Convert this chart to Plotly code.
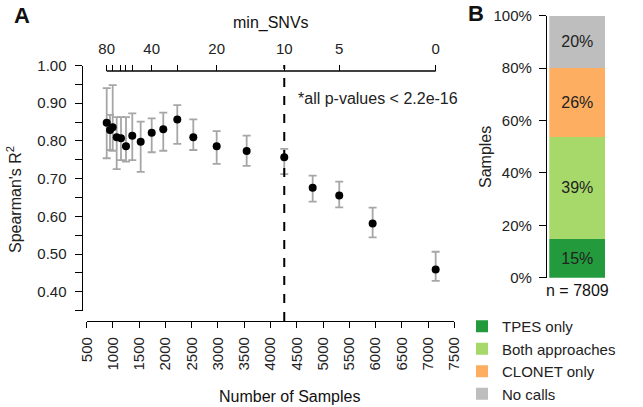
import plotly.graph_objects as go

# ---------------- data ----------------
n_samples = [881, 944, 995, 1071, 1153, 1248, 1368, 1528, 1738, 1958, 2225, 2530,
             2975, 3546, 4262, 4803, 5309, 5945, 7145]
spearman_r2 = [0.848, 0.829, 0.836, 0.810, 0.807, 0.786, 0.814, 0.798, 0.822, 0.831,
               0.857, 0.810, 0.786, 0.773, 0.757, 0.676, 0.655, 0.581, 0.459]
ci_upper = [0.940, 0.869, 0.948, 0.863, 0.863, 0.863, 0.873, 0.851, 0.860, 0.875,
            0.895, 0.857, 0.826, 0.814, 0.779, 0.708, 0.692, 0.623, 0.506]
ci_lower = [0.754, 0.776, 0.774, 0.725, 0.749, 0.745, 0.749, 0.718, 0.770, 0.774,
            0.792, 0.776, 0.739, 0.734, 0.712, 0.639, 0.624, 0.544, 0.429]

# top axis (min_SNVs): labelled ticks and unlabelled ticks (indices into n_samples)
min_snv_label_index = [0, 8, 12, 14, 16, 18]
min_snv_labels = ["80", "40", "20", "10", "5", "0"]
min_snv_minor_index = [2, 4, 5, 6, 10]
cutoff_index = 14  # min_SNVs = 10

x_ticks = list(range(500, 7501, 500))

categories = ["TPES only", "Both approaches", "CLONET only", "No calls"]
shares = [15, 39, 26, 20]
colors = ["#239B3C", "#A6D96A", "#FDAE61", "#BEBEBE"]
n_total = 7809

# ---------------- layout helpers ----------------
W, H = 643, 407
def px(x):
    return x / W
def py(y):
    return 1 - y / H

FONT = "Liberation Sans, Arial, Helvetica, sans-serif"
TICK = 15
LBL = 16

fig = go.Figure()

err_up = [u - v for u, v in zip(ci_upper, spearman_r2)]
err_dn = [v - l for l, v in zip(ci_lower, spearman_r2)]

fig.add_trace(go.Scatter(
    x=n_samples, y=spearman_r2, mode="markers",
    marker=dict(color="black", size=8),
    error_y=dict(type="data", symmetric=False, array=err_up, arrayminus=err_dn,
                 color="#a6a6a6", thickness=1.8, width=4),
    showlegend=False, hoverinfo="skip", xaxis="x", yaxis="y"))

# invisible traces so the top axes are rendered
for xa in ("x2", "x4"):
    fig.add_trace(go.Scatter(
        x=n_samples, y=spearman_r2, mode="markers", marker=dict(opacity=0),
        showlegend=False, hoverinfo="skip", xaxis=xa, yaxis="y"))

for cat, val, col in zip(categories, shares, colors):
    fig.add_trace(go.Bar(
        x=[0], y=[val], name=cat, width=1,
        marker=dict(color=col, line=dict(width=0)),
        text=[f"{val}%"], textposition="inside", insidetextanchor="middle",
        textangle=0, constraintext="none",
        textfont=dict(size=16, color="#222222", family=FONT),
        xaxis="x3", yaxis="y3", hoverinfo="skip"))

axis_common = dict(showgrid=False, zeroline=False, showline=True, linecolor="black",
                   linewidth=1.3, ticks="outside", tickcolor="black", tickwidth=1.3,
                   automargin=False,
                   tickfont=dict(size=TICK, color="#222222", family=FONT))

top_common = dict(overlaying="x", side="top", anchor="free", position=py(71),
                  range=[500, 7500], showgrid=False, zeroline=False, showline=False,
                  ticks="outside", ticklen=6, tickwidth=1.3, tickcolor="black",
                  automargin=False, ticklabelstandoff=5,
                  tickfont=dict(size=TICK, color="#222222", family=FONT))

fig.update_layout(
    width=W, height=H, margin=dict(l=0, r=0, t=0, b=0, autoexpand=False),
    paper_bgcolor="white", plot_bgcolor="white",
    font=dict(family=FONT, color="#222222"),
    barmode="stack", bargap=0,
    xaxis=dict(domain=[px(86.7), px(454.3)], range=[500, 7500], anchor="free",
               position=py(321), tickvals=x_ticks, tickangle=-90, ticklen=6,
               ticklabelstandoff=3, **axis_common),
    yaxis=dict(domain=[py(310.6), py(65.5)], range=[0.3499, 1.0001], anchor="free",
               position=px(81.7), tick0=0, dtick=0.1, tickformat=".2f", ticklen=7,
               ticklabelstandoff=5,
               minor=dict(dtick=0.05, tick0=0, ticks="outside", ticklen=7,
                          tickcolor="black", tickwidth=1.3, showgrid=False),
               **axis_common),
    xaxis2=dict(tickvals=[n_samples[i] for i in min_snv_label_index],
                ticktext=min_snv_labels, **top_common),
    xaxis4=dict(tickvals=[n_samples[i] for i in min_snv_minor_index],
                showticklabels=False, **top_common),
    xaxis3=dict(domain=[px(549.3), px(605.7)], range=[-0.5, 0.5], visible=False,
                anchor="y3", automargin=False),
    yaxis3=dict(domain=[py(277.7), py(15.7)], range=[0, 100], anchor="free",
                position=px(546), tick0=0, dtick=20, ticksuffix="%", ticklen=7,
                ticklabelstandoff=4, **axis_common),
    legend=dict(x=px(462), y=py(310), xanchor="left", yanchor="top",
                traceorder="normal", font=dict(size=15, color="#222222", family=FONT),
                bgcolor="rgba(0,0,0,0)", tracegroupgap=0, itemwidth=30),
)

fig.add_shape(type="line", xref="x", yref="paper",
              x0=n_samples[cutoff_index], x1=n_samples[cutoff_index],
              y0=py(321), y1=py(65), line=dict(color="black", width=2, dash="dash"))
fig.add_shape(type="line", xref="x", yref="paper",
              x0=n_samples[0], x1=n_samples[-1], y0=py(71), y1=py(71),
              line=dict(color="black", width=1.3))

ann = [
    dict(text="<b>A</b>", x=px(22), y=py(16), size=22),
    dict(text="<b>B</b>", x=px(476), y=py(14), size=22),
    dict(text="min_SNVs", x=px(271), y=py(23), size=LBL),
    dict(text="Number of Samples", x=px(289), y=py(396), size=LBL),
    dict(text="n = " + str(n_total), x=px(577), y=py(290), size=LBL),
]
for a in ann:
    fig.add_annotation(text=a["text"], x=a["x"], y=a["y"], xref="paper", yref="paper",
                       showarrow=False, xanchor="center", yanchor="middle",
                       font=dict(size=a["size"], color="#111111", family=FONT))
fig.add_annotation(text="*all p-values < 2.2e-16", x=px(296), y=py(98), xref="paper",
                   yref="paper", showarrow=False, xanchor="left", yanchor="middle",
                   font=dict(size=LBL, color="#222222", family=FONT))
fig.add_annotation(text="Spearman's R<sup>2</sup>", x=px(14), y=py(200), xref="paper",
                   yref="paper", showarrow=False, textangle=-90, xanchor="center",
                   yanchor="middle", font=dict(size=LBL, color="#222222", family=FONT))
fig.add_annotation(text="Samples", x=px(485), y=py(157), xref="paper",
                   yref="paper", showarrow=False, textangle=-90, xanchor="center",
                   yanchor="middle", font=dict(size=LBL, color="#222222", family=FONT))

fig.write_html("out.html",
               config={"displayModeBar": False},
               post_script="document.body.style.margin='0';"
                           "document.body.style.padding='0';")
